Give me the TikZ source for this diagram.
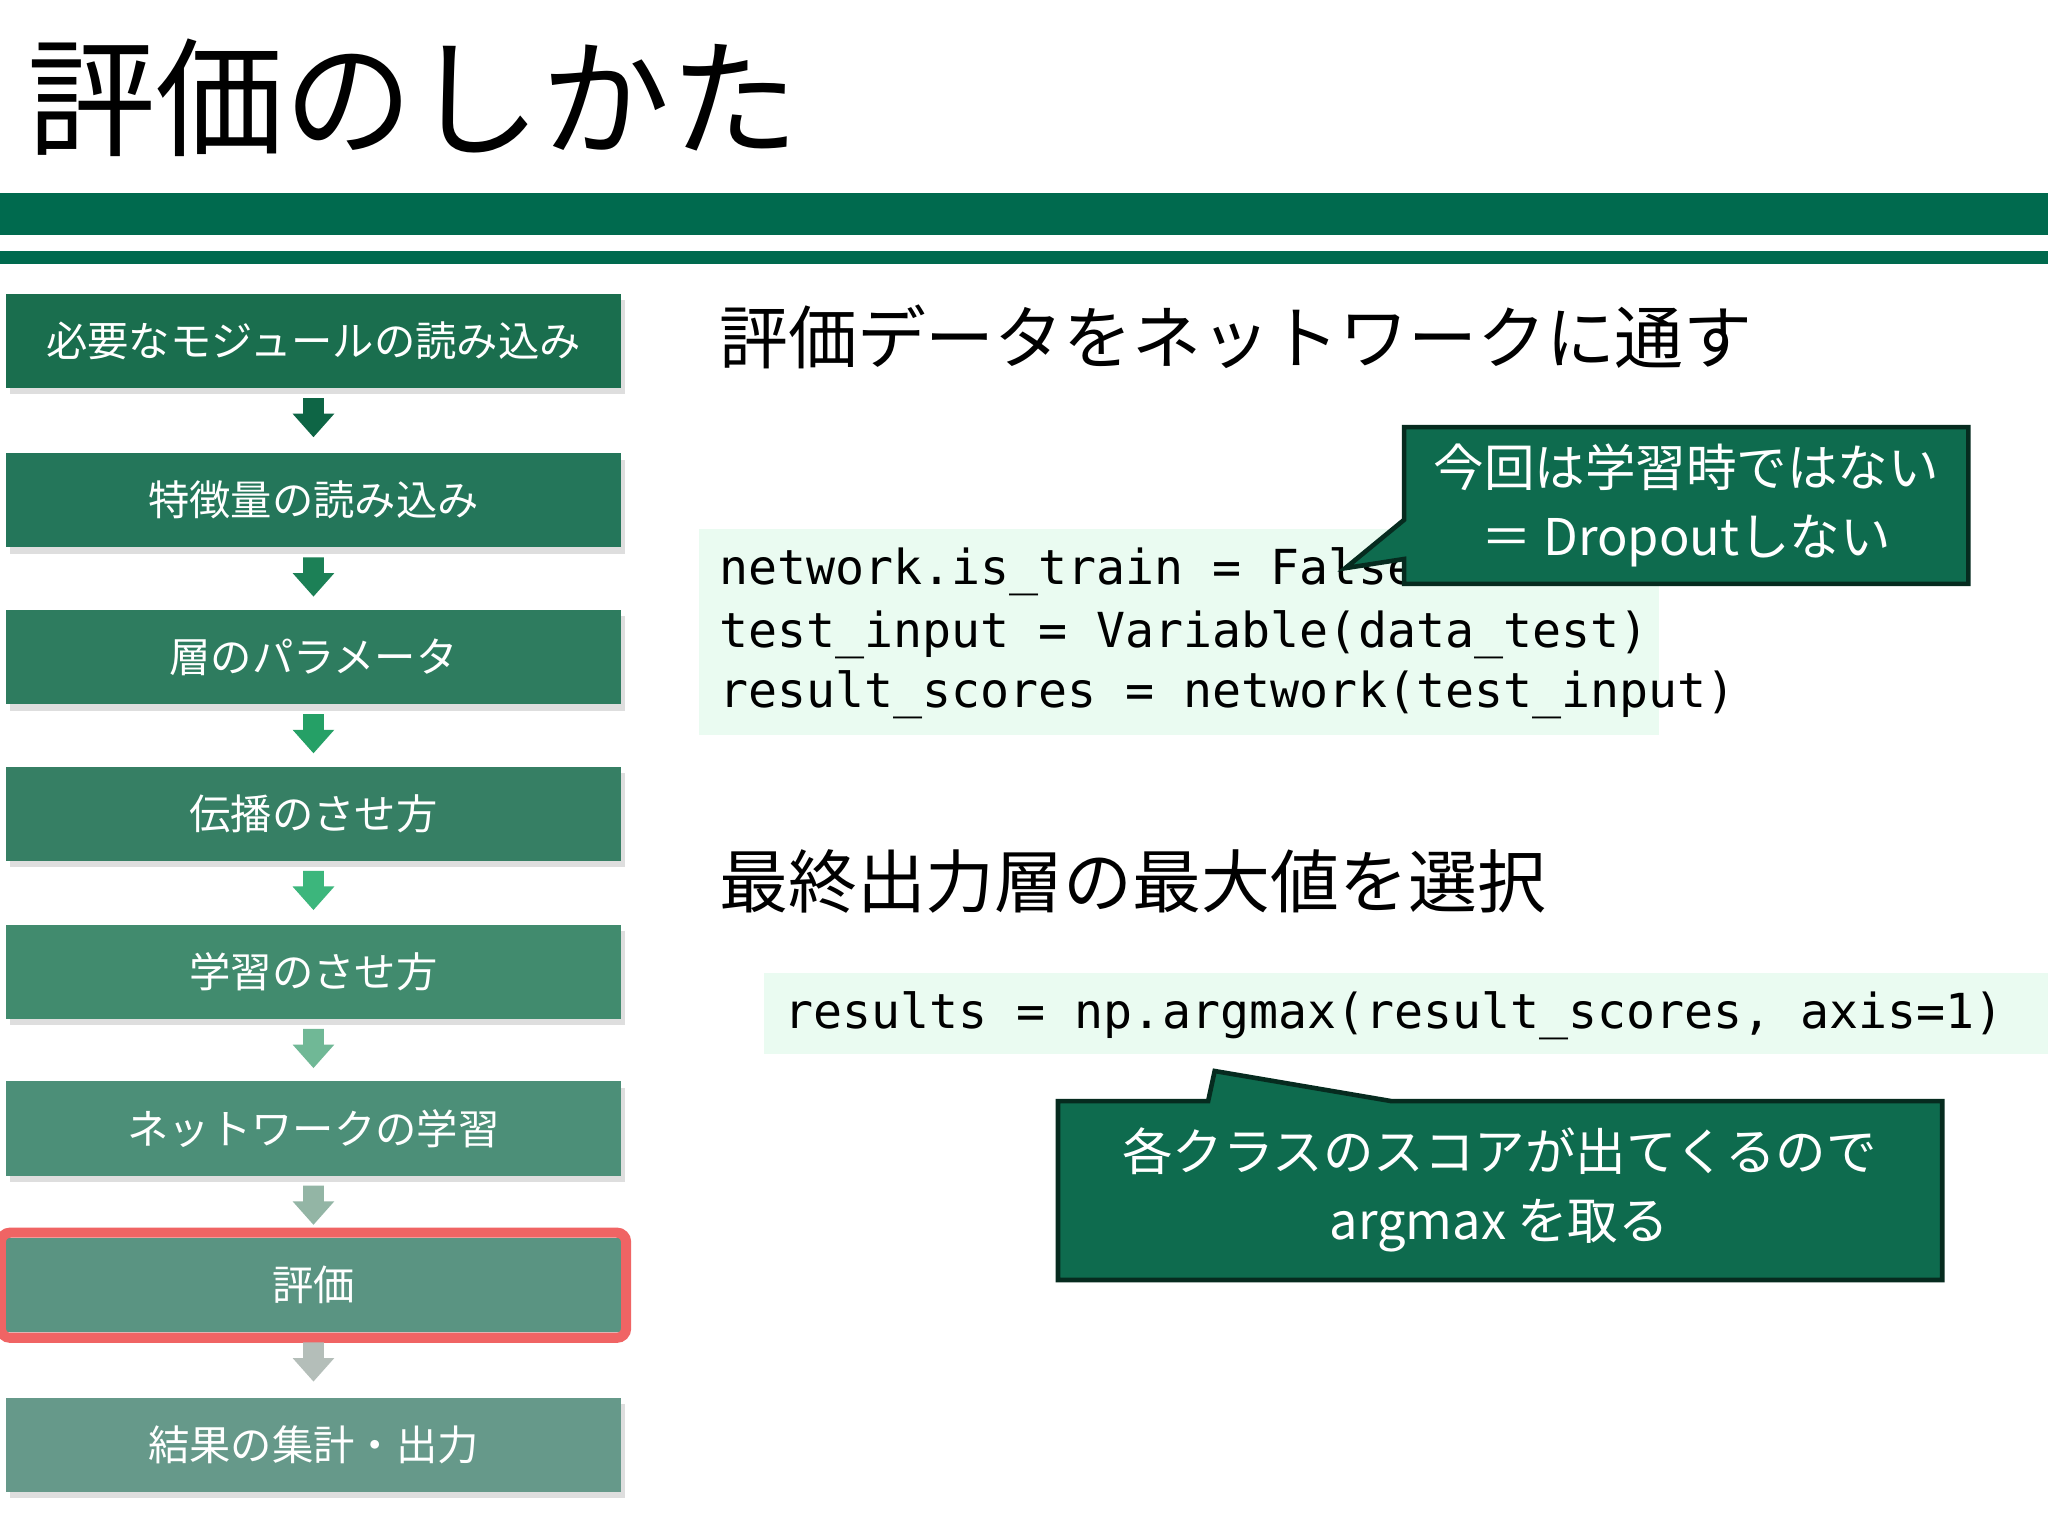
\documentclass[tikz,border=0pt]{standalone}
\usepackage{fontspec}
\setmainfont{Noto Sans CJK JP}
\setmonofont{DejaVu Sans Mono}
\usetikzlibrary{shadows,calc}
\definecolor{bar}{HTML}{006A4E}
\definecolor{call}{HTML}{0E6B4E}
\definecolor{codebg}{HTML}{EAFBF1}
\definecolor{redb}{HTML}{F06464}
\tikzset{
 stepbox/.style={minimum width=4.7cm,minimum height=0.72cm,inner sep=0pt,text=white,font=\fontsize{9}{10}\selectfont,
   drop shadow={shadow xshift=0.03cm,shadow yshift=-0.05cm,fill=black!25}},
 codet/.style={anchor=west,font=\ttfamily\fontsize{10.5}{12}\selectfont,inner sep=0pt},
 head/.style={anchor=west,font=\fontsize{15}{17}\selectfont,inner sep=0pt},
 calltext/.style={text=white,font=\fontsize{11}{15}\selectfont,align=center}
}
\begin{document}
\begin{tikzpicture}[x=0.01cm,y=-0.01cm]
\useasboundingbox (0,0) rectangle (1568,1176);
\fill[white] (0,0) rectangle (1568,1176);
\node[anchor=west,inner sep=0pt,font=\fontsize{28}{30}\selectfont] (title) at (20,75) {評価のしかた};
\fill[bar] (0,148) rectangle (1568,180);
\fill[bar] (0,192) rectangle (1568,202);
% steps
\def\ys{{261,383,503,623,744,864,984,1106}}
\foreach \i/\t/\c in {0/必要なモジュールの読み込み/1A6E4E,1/特徴量の読み込み/24765A,2/層のパラメータ/2E7C5F,3/伝播のさせ方/367F64,4/学習のさせ方/418B6E,5/ネットワークの学習/4C8F78,6/評価/5A9482,7/結果の集計・出力/66998A}{
  \definecolor{bc}{HTML}{\c}
  \pgfmathsetmacro\yy{\ys[\i]}
  \node[stepbox,fill=bc] (s\i) at (240,\yy) {\t};
}
\draw[redb,line width=2.2pt,rounded corners=2pt] ([xshift=-1pt,yshift=1pt]s6.north west) rectangle ([xshift=1pt,yshift=-1pt]s6.south east);
\foreach \i/\c in {0/0E6545,1/1C8056,2/25A066,3/3CB67C,4/70B896,5/93B5A5,6/B4BEB9}{
  \definecolor{ac}{HTML}{\c}
  \path (s\i.south) ++(0,7) coordinate (a\i);
  \fill[ac] ($(a\i)+(-8,0)$) -- ++(16,0) -- ++(0,12) -- ++(8,0) -- ($(a\i)+(0,30)$) -- ($(a\i)+(-16,12)$) -- ++(8,0) -- cycle;
}
% heading 1
\node[head] (h1) at (550,258) {評価データをネットワークに通す};
\fill[codebg] (535,405) rectangle (1270,563);
\node[codet] (c1) at (550,438) {network.is\_train = False};
\node[codet] (c2) at (550,486) {test\_input = Variable(data\_test)};
\node[codet] (c3) at (550,532) {result\_scores = network(test\_input)};
\fill[call,draw=black!60!call,line width=1pt] (1075,327) -- (1507,327) -- (1507,447) -- (1075,447) -- (1075,428) -- (1030,435) -- (1075,398) -- cycle;
\node[calltext] (k1) at (1291,387) {今回は学習時ではない\\＝ Dropoutしない};
% heading 2
\node[head] (h2) at (550,675) {最終出力層の最大値を選択};
\fill[codebg] (585,745) rectangle (1568,807);
\node[codet] (c4) at (600,778) {results = np.argmax(result\_scores, axis=1)};
\fill[call,draw=black!60!call,line width=1pt] (810,843) -- (925,843) -- (930,820) -- (1065,843) -- (1487,843) -- (1487,980) -- (810,980) -- cycle;
\node[calltext] (k2) at (1148,911) {各クラスのスコアが出てくるので\\argmax を取る};
\end{tikzpicture}
\end{document}
